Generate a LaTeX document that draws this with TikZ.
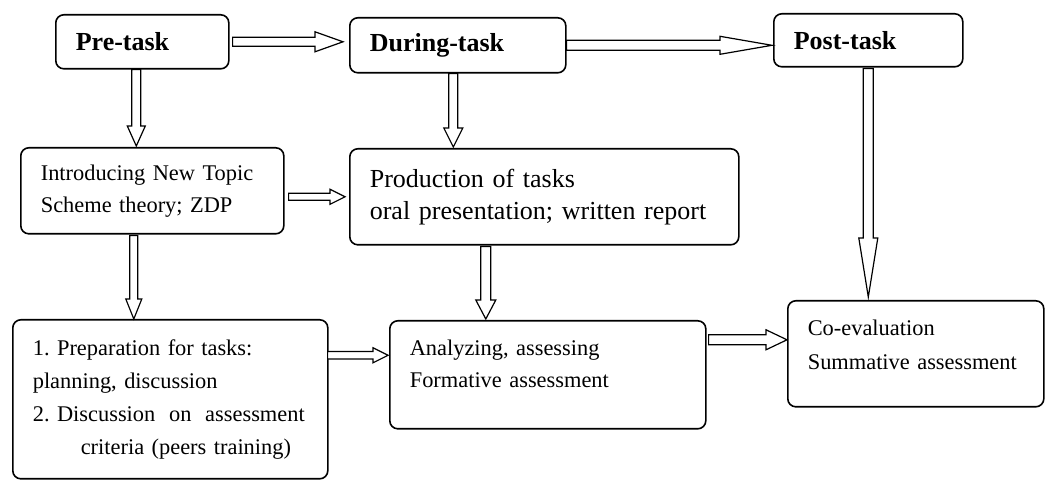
\documentclass[tikz,border=0pt]{standalone}
\usepackage{fontspec}
\setmainfont{Liberation Serif}
\usepackage{tikz}
\usetikzlibrary{calc}
\frenchspacing

\tikzset{
    stagebox/.style={draw, rounded corners=4pt, line width=0.8pt, align=left, anchor=north west,
        inner xsep=10pt, inner ysep=0pt, font=\fontsize{11.2}{16}\selectfont},
    titlebox/.style={stagebox, font=\fontsize{13}{15}\selectfont\bfseries},
    hollow/.style={draw, line width=0.6pt, fill=white}
}

% block arrow to the right: start, end, shaft half, head half, head length
\newcommand{\hblock}[5]{%
    \draw[hollow] let \p1=#1, \p2=#2 in
        (\x1,\y1+#3) -- (\x2-#5,\y1+#3) -- (\x2-#5,\y1+#4) -- (\x2,\y1)
        -- (\x2-#5,\y1-#4) -- (\x2-#5,\y1-#3) -- (\x1,\y1-#3) -- cycle;}
% block arrow downwards
\newcommand{\vblock}[5]{%
    \draw[hollow] let \p1=#1, \p2=#2 in
        (\x1-#3,\y1) -- (\x1-#3,\y2+#5) -- (\x1-#4,\y2+#5) -- (\x1,\y2)
        -- (\x1+#4,\y2+#5) -- (\x1+#3,\y2+#5) -- (\x1+#3,\y1) -- cycle;}

\begin{document}
\begin{tikzpicture}[x=0.5pt, y=-0.5pt]
    \useasboundingbox (0,0) rectangle (1045,480);

    % Stages
    \node[titlebox, text width=66.5pt, minimum height=27pt] (pre) at (55,14) {Pre-task};
    \node[titlebox, text width=88pt, minimum height=27.5pt] (during) at (349,17) {During-task};
    \node[titlebox, text width=74.5pt, minimum height=26.5pt] (post) at (773,13) {Post-task};

    % Activities
    \node[stagebox, text width=111.5pt, minimum height=43pt] (intro) at (20,147)
        {Introducing New Topic\\Scheme theory; ZDP};
    \node[stagebox, text width=174.5pt, minimum height=48pt, font=\fontsize{13}{16}\selectfont] (prod) at (349,148)
        {Production of tasks\\oral presentation; written report};
    \node[stagebox, text width=137.5pt, minimum height=79.5pt, font=\fontsize{11.2}{16.5}\selectfont] (prep) at (12,319)
        {1. Preparation for tasks:\\planning, discussion\\
         \makebox[136pt][l]{2. Discussion\hfill on\hfill assessment}\\
         \hspace*{24pt}criteria (peers training)};
    \node[stagebox, text width=138pt, minimum height=54pt] (anal) at (389,320)
        {Analyzing, assessing\\Formative assessment\\[-5pt]\mbox{}};
    \node[stagebox, text width=108pt, minimum height=53pt, font=\fontsize{11.2}{17}\selectfont] (coeval) at (787,300)
        {Co-evaluation\\Summative assessment\\[-8pt]\mbox{}};

    % Arrows
    \hblock{($(pre.east)+(3,0)$)}{($(during.west)+(-6,0)$)}{2.25pt}{5pt}{14pt}
    \hblock{(during.east)}{($(post.west)+(-1,0)$)}{2.5pt}{4.5pt}{26pt}
    \vblock{($(pre.south)+(-6,0)$)}{($(intro.north)+(0,-1)$)}{2.25pt}{4.5pt}{10pt}
    \vblock{($(during.south)+(-4.5,0)$)}{($(prod.north)+(0,-1)$)}{2.25pt}{4.75pt}{9.5pt}
    \vblock{($(post.south)+(0,1)$)}{($(coeval.north)+(0,-3)$)}{2.5pt}{4.75pt}{29.5pt}
    \vblock{($(intro.south)+(-18.5,1)$)}{(prep.north)}{2pt}{4pt}{10pt}
    \hblock{($(intro.east)+(4,6)$)}{($(prod.west)+(-4,0)$)}{1.75pt}{3.75pt}{7.5pt}
    \vblock{($(prod.south)+(-58.5,1)$)}{($(anal.north)+(0,-1)$)}{2.5pt}{5pt}{9.5pt}
    \hblock{($(prep.east)+(-1,-44)$)}{($(anal.west)+(-1,0)$)}{1.9pt}{3.75pt}{7.5pt}
    \hblock{($(anal.east)+(2,-35)$)}{(coeval.west)}{2.5pt}{5pt}{10.5pt}
\end{tikzpicture}
\end{document}
